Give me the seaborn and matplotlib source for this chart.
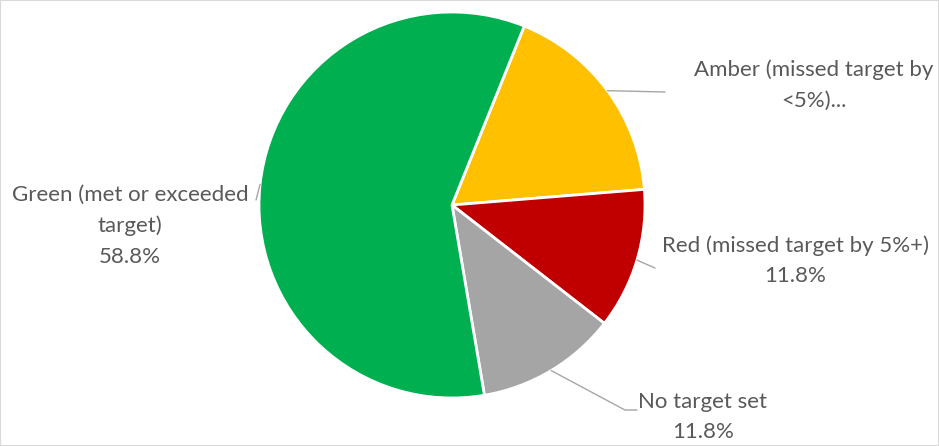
import numpy as np
import matplotlib.pyplot as plt
import seaborn as sns

# Datos del gráfico
categorias = ["Amber (missed target by\n<5%)...", "Red (missed target by 5%+)\n11.8%",
              "No target set\n11.8%", "Green (met or exceeded\ntarget)\n58.8%"]
valores = [17.6, 11.8, 11.8, 58.8]
colores = ["#FFC000", "#C00000", "#A5A5A5", "#00B050"]

sns.set_theme(style="white")
plt.rcParams['font.family'] = ['Lato', 'DejaVu Sans']

W, H = 939, 446
fig = plt.figure(figsize=(W / 100, H / 100), dpi=100)
ax = fig.add_axes([0, 0, 1, 1])

cx, cy, r = 452, H - 205, 193
wedges, _ = ax.pie(valores, colors=colores, startangle=68, counterclock=False,
                   center=(cx, cy), radius=r, frame=True,
                   wedgeprops=dict(edgecolor='white', linewidth=2))
ax.set_xlim(0, W)
ax.set_ylim(0, H)
ax.set_aspect('equal')
ax.axis('off')

# posiciones de etiquetas (pixeles, y hacia abajo) y puntos de codo del conector
pos_texto = [(814, 85), (795, 261), (703, 417), (130, 226)]
codos = [[(665, 92)], [(655, 268)], [(625, 410), (637, 410)], [(256, 200)]]

color_txt = "#595959"
for w, lab, (tx, ty), codo in zip(wedges, categorias, pos_texto, codos):
    ang = np.deg2rad((w.theta1 + w.theta2) / 2)
    x0 = cx + r * np.cos(ang)
    y0 = cy + r * np.sin(ang)
    xs = [x0] + [p[0] for p in codo]
    ys = [y0] + [H - p[1] for p in codo]
    ax.plot(xs, ys, color="#a6a6a6", lw=1)
    ax.text(tx, H - ty, lab, ha='center', va='center', fontsize=16,
            color=color_txt, linespacing=1.65)

# borde del área del gráfico
fig.patches.append(plt.Rectangle((0, 0), 1, 1, transform=fig.transFigure,
                                 fill=False, edgecolor="#d9d9d9", lw=1.5))

fig.savefig("out.png", dpi=100)
